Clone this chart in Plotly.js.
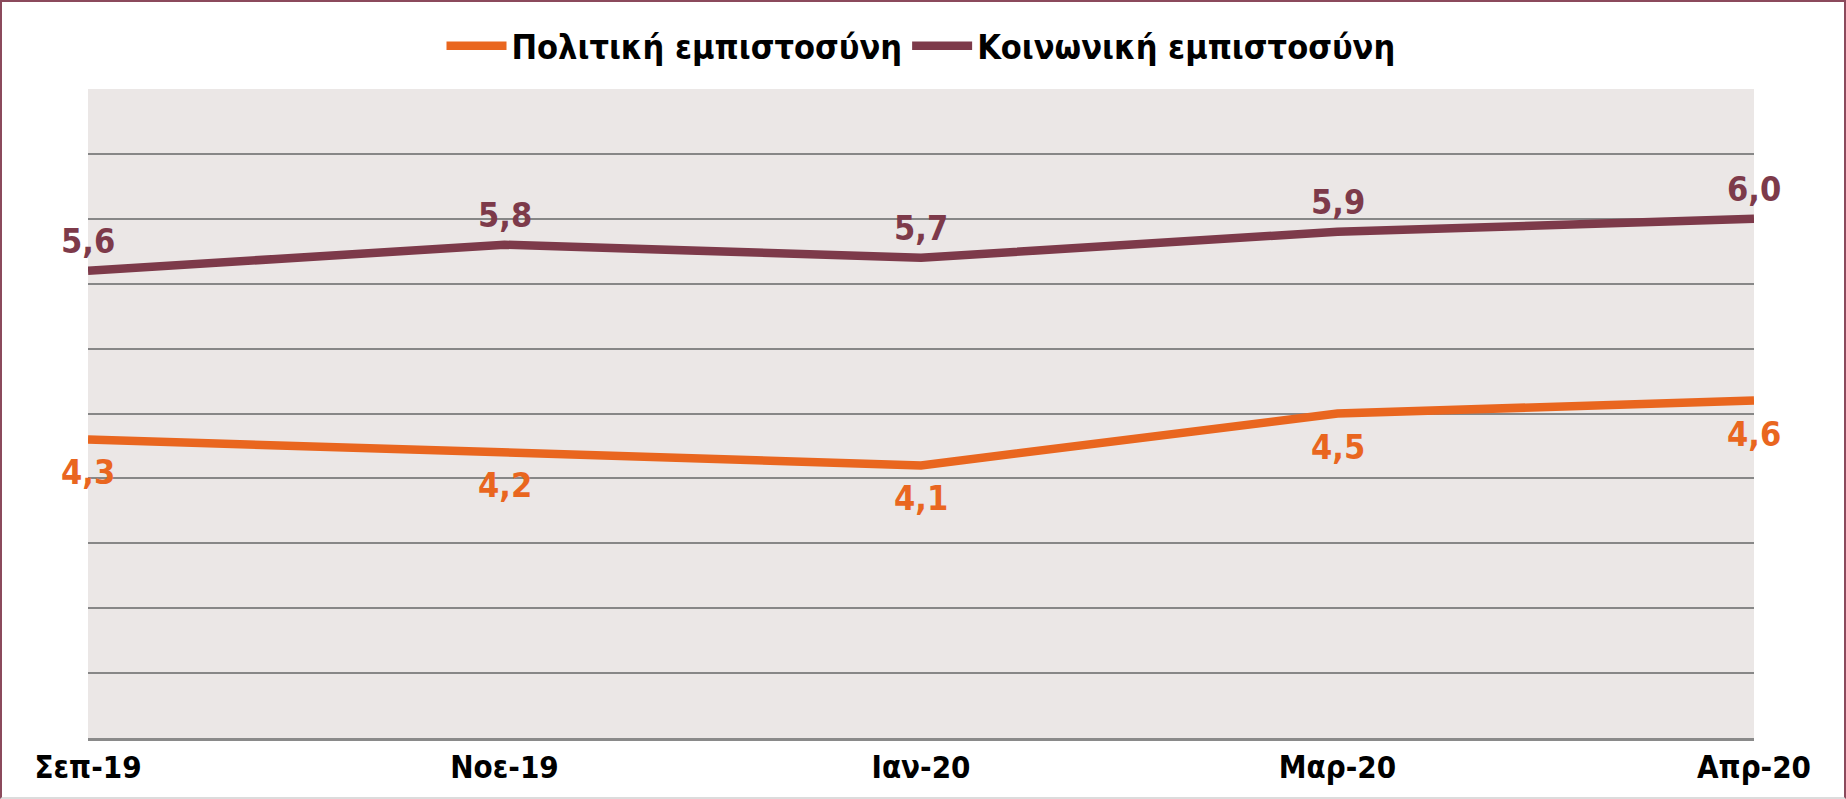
<!DOCTYPE html>
<html>
<head>
<meta charset="utf-8">
<script src="https://cdn.plot.ly/plotly-3.0.1.min.js"></script>
<style>
  html, body { margin: 0; padding: 0; background: #ffffff; }
  #chart { width: 1846px; height: 799px; box-sizing: border-box;
           border: 2px solid #8B4A5C; border-bottom-color: #dcdcdc; }
</style>
</head>
<body>
<div id="chart"></div>
<script>
const months = ["Σεπ-19", "Νοε-19", "Ιαν-20", "Μαρ-20", "Απρ-20"];
const politicalTrust = [4.3, 4.2, 4.1, 4.5, 4.6];
const socialTrust = [5.6, 5.8, 5.7, 5.9, 6.0];
const seriesNames = ["Πολιτική εμπιστοσύνη", "Κοινωνική εμπιστοσύνη"];

const ORANGE = "#E9661F";
const PURPLE = "#7D3A4A";
const FONT = "DejaVu Sans Condensed, DejaVu Sans, sans-serif";

const fmt = v => v.toFixed(1).replace(".", ",");

const traces = [
  { x: months, y: politicalTrust, name: seriesNames[0], type: "scatter", mode: "lines",
    line: { color: ORANGE, width: 8.5 }, hoverinfo: "skip" },
  { x: months, y: socialTrust, name: seriesNames[1], type: "scatter", mode: "lines",
    line: { color: PURPLE, width: 8.5 }, hoverinfo: "skip" }
];

const annotations = [];
months.forEach((m, i) => {
  annotations.push({ x: m, y: socialTrust[i], xref: "x", yref: "y", text: fmt(socialTrust[i]),
    showarrow: false, yanchor: "bottom", xanchor: "center", yshift: 8,
    font: { family: FONT, size: 34, color: PURPLE, weight: "bold" } });
  annotations.push({ x: m, y: politicalTrust[i], xref: "x", yref: "y", text: fmt(politicalTrust[i]),
    showarrow: false, yanchor: "top", xanchor: "center", yshift: -11,
    font: { family: FONT, size: 34, color: ORANGE, weight: "bold" } });
});

const layout = {
  width: 1842, height: 795,
  margin: { l: 86, r: 90, t: 87, b: 59 },
  paper_bgcolor: "#ffffff",
  plot_bgcolor: "#EBE7E6",
  font: { family: FONT, color: "#000000" },
  showlegend: true,
  legend: { orientation: "h", x: 0.5, xanchor: "center", y: 1.066, yanchor: "middle",
    font: { family: FONT, size: 34, color: "#000000", weight: "bold" },
    itemwidth: 60, bgcolor: "rgba(0,0,0,0)" },
  xaxis: { type: "category", categoryorder: "array", categoryarray: months,
    range: [0, 4], showgrid: false, showline: true, linecolor: "#8A8A8A", linewidth: 2.5,
    ticks: "", tickfont: { family: FONT, size: 31, color: "#000000", weight: "bold" },
    fixedrange: true, zeroline: false },
  yaxis: { range: [2, 7], dtick: 0.5, tick0: 0, showgrid: true, gridcolor: "#878787", gridwidth: 2,
    showticklabels: false, ticks: "", zeroline: false, showline: false, fixedrange: true },
  annotations: annotations
};

Plotly.newPlot("chart", traces, layout, { displayModeBar: false, staticPlot: true });
</script>
</body>
</html>
